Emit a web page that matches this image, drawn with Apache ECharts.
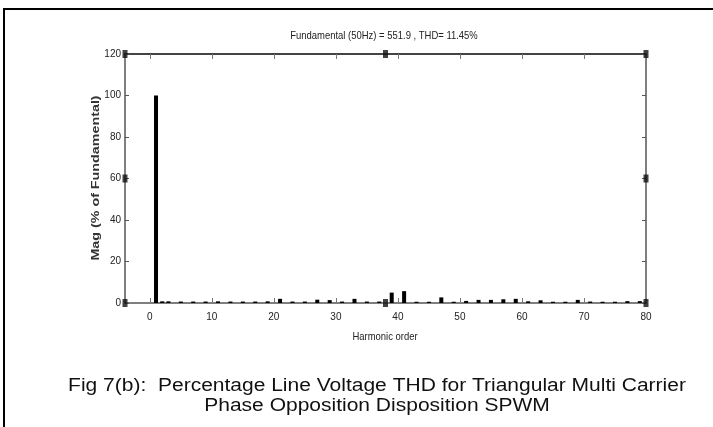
<!DOCTYPE html>
<html><head><meta charset="utf-8">
<script src="https://cdn.jsdelivr.net/npm/echarts@6/dist/echarts.min.js"></script>
<style>html,body{margin:0;padding:0;background:#fff}#c{width:713px;height:427px}</style>
</head><body><div id="c"></div>
<script>
const harmonics = [1, 2, 3, 5, 7, 9, 11, 13, 15, 17, 19, 21, 23, 25, 27, 29, 31, 33, 35, 37, 39, 41, 43, 45, 47, 49, 51, 53, 55, 57, 59, 61, 63, 65, 67, 69, 71, 73, 75, 77, 79];
const magnitudes = [100, 0.8, 0.8, 0.7, 0.7, 0.7, 0.8, 0.7, 0.7, 0.7, 0.8, 2.0, 0.7, 0.7, 1.6, 1.4, 0.7, 2.0, 0.7, 0.7, 5.0, 5.7, 0.6, 0.6, 2.7, 0.6, 1.0, 1.5, 1.5, 1.8, 2.0, 0.8, 1.3, 0.6, 0.6, 1.5, 0.7, 0.6, 0.6, 0.9, 0.9];
const xTickValues = [0, 10, 20, 30, 40, 50, 60, 70, 80];
const handleX = [-4, -4, -4, 38, 38, 80, 80, 80];
const handleY = [0, 60, 120, 0, 120, 0, 60, 120];
const titleText = 'Fundamental (50Hz) = 551.9 , THD= 11.45%';
const xName = 'Harmonic order';
const yName = 'Mag (% of Fundamental)';
const caption1 = 'Fig 7(b):  Percentage Line Voltage THD for Triangular Multi Carrier';
const caption2 = 'Phase Opposition Disposition SPWM';

const sans = "'Liberation Sans', Arial, sans-serif";
const chart = echarts.init(document.getElementById('c'), null, {renderer: 'canvas'});
const axisLineStyle = {color: '#555', width: 1.5};
chart.setOption({
  animation: false,
  grid: {left: 125, right: 67, top: 54, bottom: 124},
  xAxis: [{
    type: 'value', min: -4, max: 80, position: 'bottom',
    axisLine: {show: true, onZero: false, lineStyle: axisLineStyle},
    axisTick: {show: true, inside: true, length: 5, customValues: xTickValues, lineStyle: {color: '#777'}},
    axisLabel: {customValues: xTickValues, fontFamily: sans, fontSize: 10, color: '#222', margin: 9},
    splitLine: {show: false}
  }, {
    type: 'value', min: -4, max: 80, position: 'top',
    axisLine: {show: true, onZero: false, lineStyle: {color: '#444', width: 2}},
    axisTick: {show: true, inside: true, length: 5, customValues: xTickValues, lineStyle: {color: '#777'}},
    axisLabel: {show: false}, splitLine: {show: false}
  }],
  yAxis: [{
    type: 'value', min: 0, max: 120, interval: 20, position: 'left',
    axisLine: {show: true, onZero: false, lineStyle: axisLineStyle},
    axisTick: {show: true, inside: true, length: 4, lineStyle: {color: '#555'}},
    axisLabel: {fontFamily: sans, fontSize: 10, color: '#222', margin: 4},
    splitLine: {show: false}
  }, {
    type: 'value', min: 0, max: 120, interval: 20, position: 'right',
    axisLine: {show: true, onZero: false, lineStyle: axisLineStyle},
    axisTick: {show: true, inside: true, length: 4, lineStyle: {color: '#555'}},
    axisLabel: {show: false}, splitLine: {show: false}
  }],
  series: [{
    type: 'bar', xAxisIndex: 0, yAxisIndex: 0,
    data: harmonics.map((h, i) => [h, magnitudes[i]]),
    barWidth: 4, itemStyle: {color: '#000'}
  }, {
    type: 'scatter', xAxisIndex: 0, yAxisIndex: 0,
    data: handleX.map((x, i) => [x, handleY[i]]),
    symbol: 'rect', symbolSize: [5, 8], itemStyle: {color: '#111'}, clip: false
  }],
  graphic: [
    {type: 'line', shape: {x1: 3, y1: 9, x2: 713, y2: 9}, style: {stroke: '#000', lineWidth: 2}},
    {type: 'line', shape: {x1: 4, y1: 9, x2: 4, y2: 427}, style: {stroke: '#000', lineWidth: 2}},
    {type: 'text', x: 384, y: 36, scaleX: 0.86,
      style: {text: titleText, align: 'center', verticalAlign: 'middle', fontFamily: sans, fontSize: 11, fill: '#222'}},
    {type: 'text', x: 385, y: 337, scaleX: 0.86,
      style: {text: xName, align: 'center', verticalAlign: 'middle', fontFamily: sans, fontSize: 11, fill: '#222'}},
    {type: 'text', x: 96, y: 178, rotation: Math.PI / 2, scaleX: 1.3,
      style: {text: yName, align: 'center', verticalAlign: 'middle', fontFamily: sans, fontSize: 11, fontWeight: 'bold', fill: '#333'}},
    {type: 'text', x: 377, y: 386, scaleX: 1.2,
      style: {text: caption1, align: 'center', verticalAlign: 'middle', fontFamily: sans, fontSize: 17.5, fill: '#111'}},
    {type: 'text', x: 377, y: 406, scaleX: 1.2,
      style: {text: caption2, align: 'center', verticalAlign: 'middle', fontFamily: sans, fontSize: 17.5, fill: '#111'}}
  ]
});
</script></body></html>
